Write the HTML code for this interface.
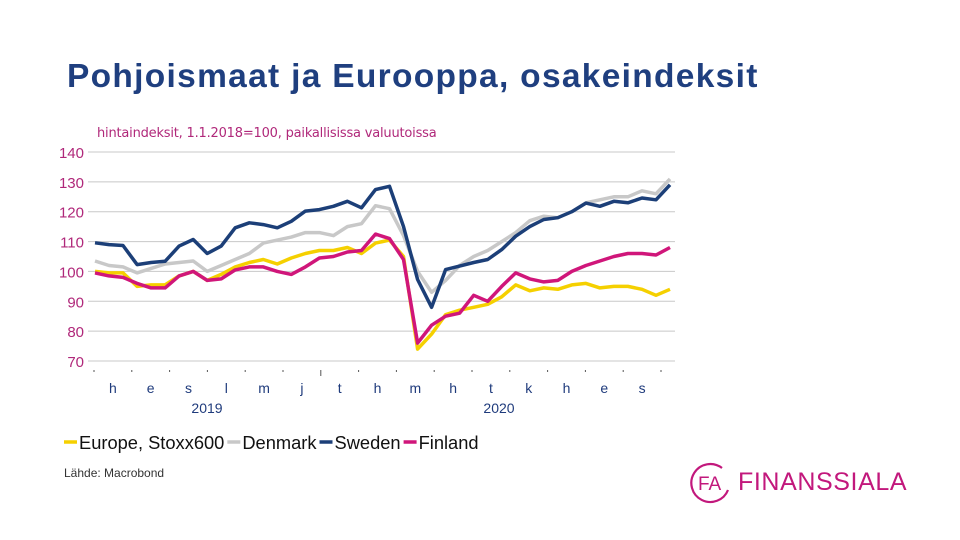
<!DOCTYPE html>
<html><head><meta charset="utf-8"><style>
body{margin:0;width:960px;height:540px;background:#fff;overflow:hidden;font-family:"Liberation Sans",sans-serif;position:relative}
.t{position:absolute;white-space:nowrap}
</style></head><body>
<div class="t" style="left:67px;top:58px;font-size:33.5px;font-weight:bold;letter-spacing:1.3px;color:#1f3f7f">Pohjoismaat ja Eurooppa, osakeindeksit</div>
<div class="t" style="left:97px;top:126px;font-size:13px;color:#b0287a;font-family:'DejaVu Sans',sans-serif;letter-spacing:-0.2px">hintaindeksit, 1.1.2018=100, paikallisissa valuutoissa</div>
<svg id="chart" width="960" height="540" style="position:absolute;left:0;top:0"></svg>
<div class="t" style="left:64px;top:466px;font-size:12px;color:#333">Lähde: Macrobond</div>
<div class="t" style="left:690px;top:462px;height:40px;color:#c2187c">
<svg width="44" height="44" style="position:absolute;left:0;top:-2px"><path d="M32 8 A19 19 0 1 0 38 30" fill="none" stroke="#c2187c" stroke-width="2.2"/><text x="8" y="30" font-size="19" fill="#c2187c" font-family="Liberation Sans">FA</text></svg>
<span style="position:absolute;left:48px;top:6px;font-size:25px;letter-spacing:0.6px">FINANSSIALA</span></div>
<script>
const yTicks=[70,80,90,100,110,120,130,140];
const months=["h","e","s","l","m","j","t","h","m","h","t","k","h","e","s"];
const years=["2019","2020"];
const seriesNames=["Europe, Stoxx600","Denmark","Sweden","Finland"];
const europe=[100,99.5,99.5,95,95.5,95.5,98.5,100,97,99,101.5,103,104,102.5,104.5,106,107,107,108,106,109.5,110.5,105,74,79,85.5,87,88,89,91.5,95.5,93.5,94.5,94,95.5,96,94.5,95,95,94,92,94];
const denmark=[103.5,102,101.5,99.5,101,102.5,103,103.5,100,102,104,106,109.5,110.5,111.5,113,113,112,115,116,122,121,112,100,93,97,102,105,107,110,113,117,118.5,118,120,123,124,125,125,127,126,131];
const sweden=[109.6,109,108.7,102.3,103,103.4,108.5,110.7,106,108.5,114.6,116.3,115.7,114.6,116.8,120.2,120.7,121.8,123.5,121.3,127.4,128.5,115,97.3,88,100.6,101.8,103,104,107.3,111.8,115,117.4,118,120,122.9,121.8,123.5,123,124.6,124,129];
const finland=[99.5,98.5,98,96,94.5,94.5,98.5,100,97,97.5,100.5,101.5,101.5,100,99,101.5,104.5,105,106.5,107,112.5,111,104,76,82,85,86,92,90,95,99.5,97.5,96.5,97,100,102,103.5,105,106,106,105.5,108];
const colors=["#f5d000","#c8c8c8","#1c3f78","#d0167a"];
const svg=document.getElementById('chart');const NS='http://www.w3.org/2000/svg';
const X0=95,X1=670,Y0=152,Y1=361;
const y=v=>Y1-(v-70)/(140-70)*(Y1-Y0);
const x=(i,n)=>X0+i*(X1-X0)/(n-1);
function mk(t,a){const e=document.createElementNS(NS,t);for(const k in a)e.setAttribute(k,a[k]);svg.appendChild(e);return e;}
yTicks.forEach(v=>{
 const g=mk('line',{x1:88,x2:675,y1:y(v),y2:y(v),stroke:'#c8c8c8','stroke-width':1});
 
 
 const t=mk('text',{x:84,y:y(v)+6,'text-anchor':'end','font-size':15,fill:'#b0287a','font-family':'Liberation Sans'});t.textContent=v;
 
 
});
const mx0=94,mdx=37.8;
for(let i=0;i<=months.length;i++){const xx=mx0+i*mdx;const tk=mk('line',{x1:xx,x2:xx,y1:370,y2:i==6?376:372,stroke:'#555','stroke-width':1});
 
 }
months.forEach((m,i)=>{const t=mk('text',{x:mx0+(i+0.5)*mdx,y:393,'text-anchor':'middle','font-size':14,fill:'#1f3b7c','font-family':'Liberation Sans'});t.textContent=m;
 
 });
[207,499].forEach((xx,i)=>{const t=mk('text',{x:xx,y:413,'text-anchor':'middle','font-size':14,fill:'#1f3b7c','font-family':'Liberation Sans'});t.textContent=years[i];
 
 });
[europe,denmark,sweden,finland].forEach((s,k)=>{const d=s.map((v,i)=>(i?'L':'M')+x(i,s.length).toFixed(1)+' '+y(v).toFixed(1)).join(' ');
 const p=mk('path',{d:d,fill:'none',stroke:colors[k],'stroke-width':3.5,'stroke-linejoin':'round'});
 
 });
let lx=64;
seriesNames.forEach((n,k)=>{
 const l=mk('line',{x1:lx,x2:lx+13,y1:442,y2:442,stroke:colors[k],'stroke-width':3.5});
 
 
 const t=mk('text',{x:lx+15,y:449,'font-size':18.3,fill:'#111','font-family':'Liberation Sans'});t.textContent=n;
 
 
 lx+=t.getComputedTextLength()+18;});
</script>
</body></html>
